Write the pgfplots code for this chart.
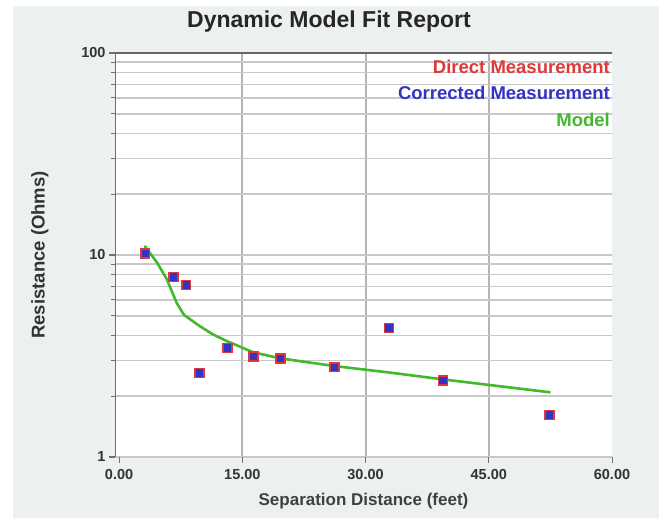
\documentclass[border=0pt]{standalone}
\usepackage{pgfplots}
\pgfplotsset{compat=1.18}
\usepackage{fontspec}
\setmainfont{Liberation Sans}
\definecolor{panel}{HTML}{EDF0F0}
\definecolor{dred}{HTML}{E03838}
\definecolor{dblue}{HTML}{3434C4}
\definecolor{mgreen}{HTML}{44B82C}
\definecolor{lgrid}{HTML}{C8C8C8}
\definecolor{vgrid}{HTML}{B4B4B4}
\definecolor{axcol}{HTML}{707070}
\begin{document}
\begin{tikzpicture}
\path[use as bounding box, fill=white] (0pt,0pt) rectangle (659pt,-518pt);
\fill[panel] (13pt,-6pt) rectangle (659pt,-518pt);
\node[font=\fontsize{23}{27}\selectfont\bfseries, text=black!85] at (329pt,-21.5pt) {Dynamic Model Fit Report};
\begin{axis}[
  at={(115pt,-457pt)}, anchor=south west,
  scale only axis, width=497pt, height=404pt,
  xmin=-0.5, xmax=60, ymin=1, ymax=100, ymode=log,
  axis background/.style={fill=white},
  axis line style={draw=none},
  xtick={15,30,45}, xticklabels={15.00,30.00,45.00},
  extra x ticks={0,60}, extra x tick labels={0.00,60.00},
  extra x tick style={grid=none},
  ytick={1,10,100}, yticklabels={1,10,100},
  tick pos=left, tick align=outside,
  major tick length=6pt, minor tick length=4pt,
  xtick style={draw=axcol, line width=1pt},
  ytick style={draw=axcol, line width=1.2pt},
  xmajorgrids, ymajorgrids, yminorgrids,
  major x grid style={draw=vgrid, line width=2pt},
  major y grid style={draw=lgrid, line width=1.5pt},
  minor y grid style={draw=lgrid, line width=1.5pt},
  ticklabel style={font=\fontsize{14.5}{17}\selectfont\bfseries, text=black!80},
  xticklabel style={yshift=-3pt},
  xlabel={Separation Distance (feet)},
  ylabel={Resistance (Ohms)},
  xlabel style={font=\fontsize{17}{20}\selectfont\bfseries, text=black!75, at={(axis description cs:0.5,-0.11)}, anchor=center},
  ylabel style={font=\fontsize{18.5}{22}\selectfont\bfseries, text=black!80, at={(axis description cs:-0.151,0.5)}, anchor=center, rotate=0},
  legend style={draw=none, fill=none, at={(axis description cs:1.0,0.988)}, anchor=north east,
    font=\fontsize{18.5}{21}\selectfont\bfseries, row sep=7.5pt, inner sep=0pt},
  legend cell align=right,
  legend image code/.code={},
]
\addplot[only marks, mark=square*, mark size=4.7pt, mark options={fill=dred, draw=dred}] coordinates {
(3.15,10.2) (6.6,7.8) (8.14,7.12) (9.76,2.61) (13.17,3.48) (16.34,3.15) (19.59,3.09) (26.2,2.79) (32.82,4.36) (39.39,2.40) (52.37,1.62)};
\addlegendentry{\textcolor{dred}{Direct Measurement}}
\addplot[only marks, mark=square*, mark size=3.2pt, mark options={fill=dblue, draw=dblue}] coordinates {
(3.15,10.2) (6.6,7.8) (8.14,7.12) (9.76,2.61) (13.17,3.48) (16.34,3.15) (19.59,3.09) (26.2,2.79) (32.82,4.36) (39.39,2.40) (52.37,1.62)};
\addlegendentry{\textcolor{dblue}{Corrected Measurement}}
\addplot[mgreen, line width=2.6pt, line join=round] coordinates {
(3.1,11.1) (4.6,9.2) (5.8,7.6) (7.0,5.8) (7.9,5.05) (9.8,4.45) (11.4,4.05) (13.1,3.75) (16.3,3.3) (19.6,3.08) (26.2,2.82) (32.9,2.62) (39.5,2.42) (52.5,2.09)};
\addlegendentry{\textcolor{mgreen}{Model}}
\draw[axcol, line width=1.3pt] (rel axis cs:0,0) -- (rel axis cs:0,1);
\draw[black!60, line width=2.2pt] (rel axis cs:0,1) -- (rel axis cs:1.005,1);
\end{axis}
\end{tikzpicture}
\end{document}
